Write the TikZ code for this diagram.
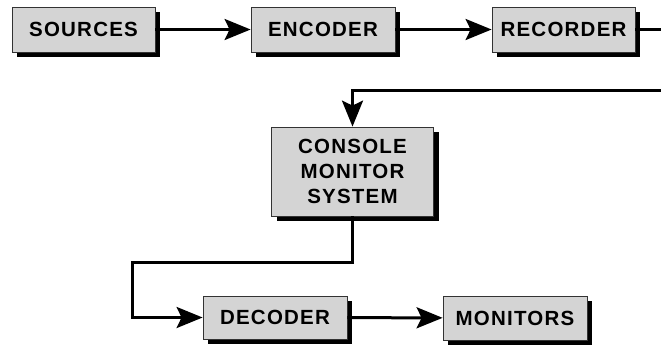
\documentclass[tikz,border=0pt]{standalone}
\usepackage{fontspec}
\newfontfamily\blkfont{Liberation Sans}[LetterSpace=6]
\usetikzlibrary{arrows.meta,shadows}
\begin{document}
\begin{tikzpicture}[x=1pt,y=-1pt,
  blk/.style={draw=black!80, line width=0.8pt, fill=black!17,
    minimum width=144pt, minimum height=45pt, inner sep=0pt, align=center,
    font=\blkfont\bfseries\fontsize{20.5}{25}\selectfont,
    drop shadow={shadow xshift=5pt,shadow yshift=-5pt,fill=black,opacity=1}},
  link/.style={line width=3pt,-{Stealth[length=26pt,width=21pt,inset=5pt]}}]
\useasboundingbox (0,0) rectangle (661,346);
% top row
\node[blk, minimum width=143pt] (src) at (83.5,29.5) {SOURCES};
\node[blk] (enc) at (323,29.5) {ENCODER};
\node[blk, minimum width=143pt] (rec) at (563.5,29.5) {RECORDER};
% console
\node[blk, minimum width=162pt, minimum height=89pt] (cms) at (352.5,171.5) {CONSOLE\\MONITOR\\SYSTEM};
% bottom row
\node[blk, minimum height=43pt] (dec) at (275,317.5) {DECODER};
\node[blk, minimum height=44pt] (mon) at (515,318) {MONITORS};
\coordinate (recout) at (661,29.5);
\coordinate (recin) at (661,90);
\coordinate (bend) at (132,262);
\draw[link] (src) -- (enc);
\draw[link] (enc) -- (rec);
\draw[line width=3pt] (rec) -- (recout);
\draw[link] (recin) -| (cms);
\draw[link] (cms) |- (bend) |- (dec);
\draw[link] (dec) -- (mon);
\end{tikzpicture}
\end{document}
